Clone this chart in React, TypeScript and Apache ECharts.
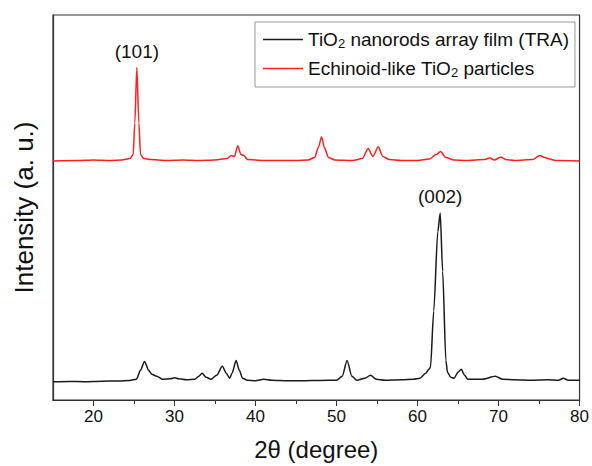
import React, { useEffect, useRef } from "react";
import * as echarts from "echarts";

// 2θ (degree) vs intensity (arbitrary units)
const traX = [15, 17, 19, 21, 23, 24.5, 25.3, 25.8, 26.3, 26.8, 27.2, 27.8, 28.5, 29.5, 30.0, 30.5, 31.5, 32.5, 33.0, 33.4, 33.9, 34.5, 35.2, 35.9, 36.4, 36.8, 37.1, 37.6, 38.0, 38.4, 39.0, 40, 41, 42, 44, 46, 48, 50, 50.7, 51.3, 51.9, 52.5, 53.5, 54.2, 54.9, 56, 58, 59.5, 60.3, 61.0, 61.4, 61.6, 62.0, 62.5, 62.8, 63.1, 63.5, 63.7, 64.1, 64.5, 65.0, 65.4, 65.8, 66.2, 68, 69.6, 70.5, 72, 74, 76, 77.4, 78.0, 78.6, 80];
const traY = [18.5, 18.8, 18.5, 19, 19.3, 19.8, 21, 30, 39, 30, 26, 24, 21, 21.5, 22.5, 21.5, 20.5, 21, 24, 27, 23, 21, 25, 34, 27, 22, 27, 40, 30, 22, 20, 19.5, 21, 20, 19.5, 19.5, 19.8, 20, 24, 40, 24, 20, 22, 25, 21, 20, 20.5, 21, 22, 27, 31, 33, 90, 170, 189, 130, 40, 28, 23, 22, 28, 31, 25, 21, 21, 24, 21, 20.5, 20, 20.5, 20, 22, 20, 20];

const echX = [15, 18, 20, 22, 23.5, 24.5, 24.9, 25.1, 25.35, 25.6, 25.8, 26.2, 27, 29, 31, 33, 35, 36.5, 37.0, 37.4, 37.8, 38.2, 38.55, 39, 41, 43, 45, 46.5, 47.3, 47.8, 48.15, 48.5, 49.0, 49.8, 52, 53.2, 53.9, 54.5, 55.15, 55.7, 56.5, 58, 60, 61.5, 62.3, 62.85, 63.5, 64.5, 66, 68.3, 68.9, 69.5, 70.3, 70.9, 72, 74.2, 75.1, 75.7, 76.3, 77, 80];
const echY = [241.5, 242, 242.5, 242, 242.5, 244, 248, 280, 336, 280, 248, 244, 243, 242, 242.5, 242, 242.5, 244, 247, 246, 257, 248, 247, 243, 242, 242, 242, 242.5, 245, 256, 266, 255, 245, 242.5, 242, 244, 254, 246, 256, 246, 243, 242, 242, 243.5, 248, 251, 245, 242.5, 242, 243, 244.5, 242.5, 245.5, 243, 242, 243, 247, 245, 243.5, 242, 241.5];

const majorTicks = [20, 30, 40, 50, 60, 70, 80];
const minorTicks = [25, 35, 45, 55, 65, 75];

const peak101 = { x: 25.35, y: 336, label: "(101)" };
const peak002 = { x: 62.8, y: 189, label: "(002)" };

const FONT = "'Liberation Sans', Arial, sans-serif";

export default function App() {
  const ref = useRef<HTMLDivElement>(null);
  useEffect(() => {
    document.body.style.margin = "0";
    document.documentElement.style.overflow = "hidden";
    document.body.style.overflow = "hidden";
    const chart = echarts.init(ref.current!, undefined, { renderer: "svg" });
    const tra = traX.map((x, i) => [x, traY[i]]);
    const ech = echX.map((x, i) => [x, echY[i]]);
    chart.setOption({
      animation: false,
      backgroundColor: "#fff",
      textStyle: { fontFamily: FONT },
      grid: {
        left: 53,
        right: 11,
        top: 15,
        bottom: 62,
        show: true,
        borderColor: "#333",
        borderWidth: 1.2,
      },
      legend: {
        orient: "vertical",
        left: 255,
        top: 22,
        padding: [8, 6, 8, 8],
        itemGap: 9,
        itemWidth: 40,
        itemHeight: 1.5,
        icon: "rect",
        borderColor: "#999",
        borderWidth: 1,
        backgroundColor: "#fff",
        textStyle: {
          fontFamily: FONT,
          fontSize: 19,
          color: "#111",
          rich: {
            n: { fontFamily: FONT, fontSize: 19, color: "#111" },
            sub: { fontFamily: FONT, fontSize: 13, color: "#111", padding: [8, 0, 0, 0] },
          },
        },
        formatter: (name: string) => {
          const parts = name.split("TiO2");
          return parts.map((p) => `{n|${p}}`).join("{n|TiO}{sub|2}");
        },
        data: ["TiO2 nanorods array film (TRA)", "Echinoid-like TiO2 particles"],
      },
      xAxis: [
        {
          type: "value",
          min: 15,
          max: 80,
          position: "bottom",
          axisLine: { show: true, lineStyle: { color: "#333", width: 1.2 } },
          axisTick: { show: true, length: 6, customValues: majorTicks, lineStyle: { color: "#333" } },
          axisLabel: { show: true, customValues: majorTicks, fontSize: 17, color: "#111", margin: 8, fontFamily: FONT },
          splitLine: { show: false },
          name: "2θ (degree)",
          nameLocation: "middle",
          nameGap: 37,
          nameTextStyle: { fontSize: 24, color: "#111", fontFamily: FONT },
        },
        {
          type: "value",
          min: 15,
          max: 80,
          position: "bottom",
          axisLine: { show: false },
          axisTick: { show: true, length: 4, customValues: minorTicks, lineStyle: { color: "#333" } },
          axisLabel: { show: false },
          splitLine: { show: false },
        },
      ],
      yAxis: {
        type: "value",
        min: 0,
        max: 389,
        axisLine: { show: true, lineStyle: { color: "#333", width: 1.2 } },
        axisTick: { show: false },
        axisLabel: { show: false },
        splitLine: { show: false },
        name: "Intensity (a. u.)",
        nameLocation: "middle",
        nameGap: 16,
        nameTextStyle: { fontSize: 26, color: "#111", fontFamily: FONT },
      },
      series: [
        {
          name: "TiO2 nanorods array film (TRA)",
          type: "line",
          xAxisIndex: 0,
          data: tra,
          showSymbol: false,
          symbol: "none",
          smooth: 0.25,
          smoothMonotone: "x",
          lineStyle: { color: "#1a1a1a", width: 1.5 },
          itemStyle: { color: "#1a1a1a" },
          markPoint: {
            symbol: "circle",
            symbolSize: 0.1,
            itemStyle: { color: "transparent" },
            label: { show: true, position: "top", distance: 7, color: "#111", fontSize: 19, fontFamily: FONT, formatter: peak002.label },
            data: [{ coord: [peak002.x, peak002.y] }],
          },
        },
        {
          name: "Echinoid-like TiO2 particles",
          type: "line",
          xAxisIndex: 0,
          data: ech,
          showSymbol: false,
          symbol: "none",
          smooth: 0.25,
          smoothMonotone: "x",
          lineStyle: { color: "#ff2020", width: 1.5 },
          itemStyle: { color: "#ff2020" },
          markPoint: {
            symbol: "circle",
            symbolSize: 0.1,
            itemStyle: { color: "transparent" },
            label: { show: true, position: "top", distance: 6, color: "#111", fontSize: 19, fontFamily: FONT, formatter: peak101.label },
            data: [{ coord: [peak101.x, peak101.y] }],
          },
        },
      ],
    });
    return () => chart.dispose();
  }, []);
  return (
    <div style={{ width: 592, height: 466, overflow: "hidden" }}>
      <div ref={ref} style={{ width: 592, height: 466 }} />
    </div>
  );
}
